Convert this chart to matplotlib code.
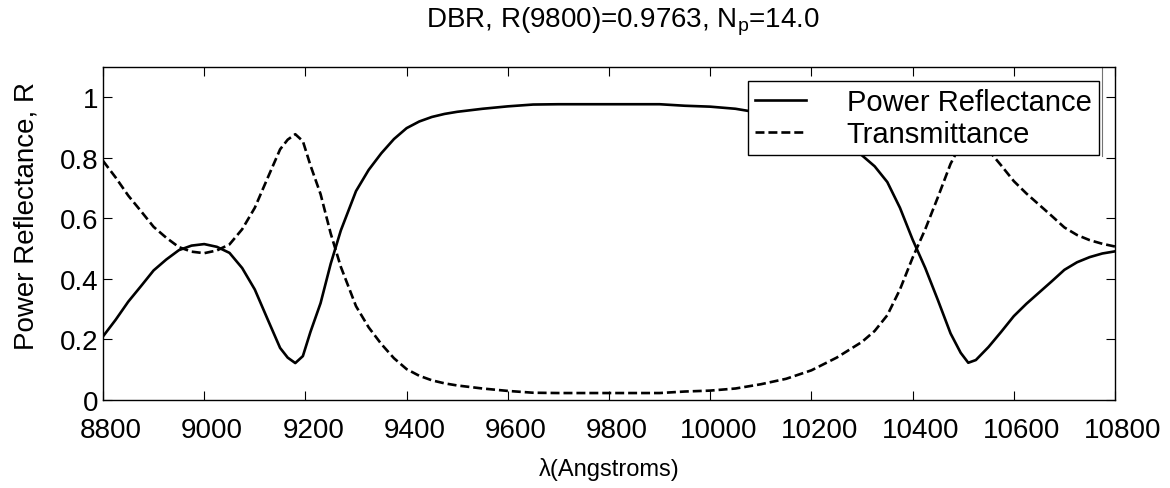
import matplotlib
matplotlib.use("Agg")
import matplotlib.pyplot as plt
import matplotlib.transforms as mtransforms

plt.rcParams['font.family'] = ['Liberation Sans', 'DejaVu Sans']
plt.rcParams['mathtext.fontset'] = 'custom'
plt.rcParams['mathtext.rm'] = 'Liberation Sans'

# wavelength (Angstroms)
wavelength = [8800, 8825, 8850, 8875, 8900, 8925, 8950, 8975, 9000, 9025,
              9050, 9075, 9100, 9125, 9150, 9165, 9180, 9195, 9210, 9230,
              9250, 9270, 9300, 9325, 9350, 9375, 9400, 9425, 9450, 9475,
              9500, 9550, 9600, 9650, 9700, 9800, 9900, 9950, 10000, 10050,
              10100, 10150, 10200, 10250, 10300, 10325, 10350, 10375, 10400, 10425,
              10450, 10475, 10495, 10510, 10525, 10550, 10575, 10600, 10625, 10650,
              10675, 10700, 10725, 10750, 10775, 10800]

# power reflectance
reflectance = [0.21, 0.265, 0.325, 0.376, 0.428, 0.464, 0.495, 0.51, 0.515, 0.506,
               0.486, 0.436, 0.365, 0.268, 0.172, 0.14, 0.122, 0.145, 0.225, 0.32,
               0.45, 0.56, 0.69, 0.76, 0.815, 0.862, 0.898, 0.92, 0.935, 0.945,
               0.952, 0.962, 0.97, 0.976, 0.977, 0.977, 0.977, 0.972, 0.969, 0.962,
               0.948, 0.93, 0.9, 0.86, 0.808, 0.772, 0.72, 0.635, 0.53, 0.436,
               0.33, 0.22, 0.156, 0.123, 0.132, 0.175, 0.225, 0.277, 0.318, 0.355,
               0.392, 0.43, 0.455, 0.472, 0.484, 0.491]

# transmittance
transmittance = [0.79, 0.735, 0.675, 0.624, 0.572, 0.536, 0.505, 0.49, 0.485, 0.494,
                 0.514, 0.564, 0.635, 0.732, 0.828, 0.86, 0.878, 0.855, 0.775, 0.68,
                 0.55, 0.44, 0.31, 0.24, 0.185, 0.138, 0.102, 0.08, 0.065, 0.055,
                 0.048, 0.038, 0.03, 0.024, 0.023, 0.023, 0.023, 0.028, 0.031, 0.038,
                 0.052, 0.07, 0.098, 0.14, 0.192, 0.228, 0.28, 0.365, 0.47, 0.564,
                 0.67, 0.78, 0.844, 0.877, 0.868, 0.825, 0.775, 0.723, 0.682, 0.645,
                 0.608, 0.57, 0.545, 0.528, 0.516, 0.507]

xticks = list(range(8800, 10801, 200))
yticks = [0, 0.2, 0.4, 0.6, 0.8, 1]

fig = plt.figure(figsize=(11.7, 4.89), dpi=100)
ax = fig.add_axes([103 / 1170, 1 - 401 / 489, 1012 / 1170, 333 / 489])

ax.plot(wavelength, reflectance, color='black', lw=1.9, label='Power Reflectance')
ax.plot(wavelength, transmittance, color='black', lw=1.9, linestyle=(0, (3.4, 1.5)),
        label='Transmittance')

ax.set_xlim(8800, 10800)
ax.set_ylim(0, 1.1)
ax.set_xticks(xticks)
ax.set_yticks(yticks)
ax.set_yticklabels(['0', '0.2', '0.4', '0.6', '0.8', '1'])
ax.tick_params(direction='in', length=6.5, width=0.8, top=True, right=True,
               labelsize=20)
ax.tick_params(axis='x', pad=12)
ax.tick_params(axis='y', pad=3)
for s in ax.spines.values():
    s.set_linewidth(1.0)

# MATLAB-style x tick labels sit a little right of their ticks
shift = mtransforms.ScaledTranslation(8 / 100, 0, fig.dpi_scale_trans)
for lab in ax.get_xticklabels():
    lab.set_transform(lab.get_transform() + shift)

ax.set_xlabel('λ(Angstroms)', fontsize=17, labelpad=10)
ax.set_ylabel('Power Reflectance, R', fontsize=20)
ax.yaxis.set_label_coords(-0.063, 0.555)

fig.text(623 / 1170, 1 - 27 / 489, r'DBR, R(9800)=0.9763, N$_\mathregular{p}$=14.0',
         ha='center', va='baseline', fontsize=20)

leg = ax.legend(loc='upper right', bbox_to_anchor=(1099 / 1170, 1 - 82 / 489),
                bbox_transform=fig.transFigure, fontsize=21, frameon=True,
                fancybox=False, framealpha=1, edgecolor='black',
                handlelength=1.75, handletextpad=1.4, labelspacing=0.12,
                borderpad=0.25, borderaxespad=0)
leg.get_frame().set_linewidth(1.0)

# thin extra border line that MATLAB leaves beside the legend
ax.plot([1102 / 1170, 1102 / 1170], [1 - 157 / 489, 1 - 68 / 489],
        transform=fig.transFigure, color='0.45', lw=0.8, clip_on=False)

fig.savefig('out.png', dpi=100)
